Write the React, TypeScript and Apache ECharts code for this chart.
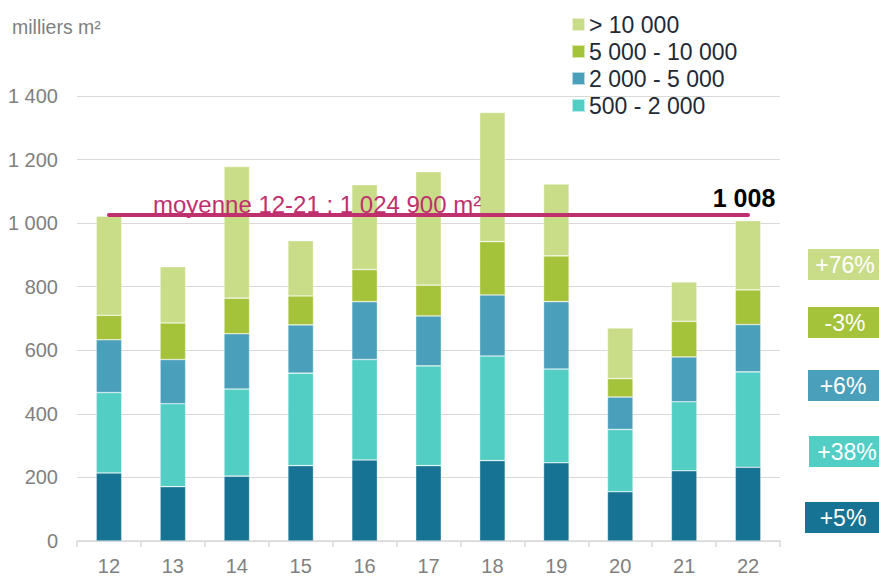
import React, { useEffect, useRef } from "react";
import * as echarts from "echarts";

const years = ["12", "13", "14", "15", "16", "17", "18", "19", "20", "21", "22"];
const under500 = [214, 171, 204, 237, 255, 237, 253, 246, 155, 221, 232];
const s500to2000 = [253, 261, 274, 291, 316, 314, 329, 295, 196, 217, 300];
const s2000to5000 = [166, 139, 174, 152, 182, 157, 192, 212, 102, 141, 149];
const s5000to10000 = [77, 115, 112, 91, 101, 97, 168, 144, 58, 112, 109];
const over10000 = [312, 177, 414, 174, 267, 357, 406, 226, 159, 124, 218];
const yTicks = [0, 200, 400, 600, 800, 1000, 1200, 1400];
const averageValue = 1024.9;
const averageLabel = "moyenne 12-21 : 1 024 900 m²";
const changeLabels = ["+76%", "-3%", "+6%", "+38%", "+5%"];

const C_LIGHT = "#c9dd89";
const C_GREEN = "#a5c33a";
const C_BLUE = "#4a9fba";
const C_TEAL = "#52cec5";
const C_DARK = "#167393";
const C_AVG = "#c0306f";
const FONT = "Liberation Sans, Arial, sans-serif";

const fmt = (v: number) => String(Math.round(v)).replace(/\B(?=(\d{3})+(?!\d))/g, " ");

export default function App() {
  const ref = useRef<HTMLDivElement>(null);
  useEffect(() => {
    if (!ref.current) return;
    const chart = echarts.init(ref.current, undefined, { renderer: "svg" });
    const last = years.length - 1;
    const totals = years.map(
      (_, i) => under500[i] + s500to2000[i] + s2000to5000[i] + s5000to10000[i] + over10000[i]
    );
    const itemBorder = { borderColor: "rgba(255,255,255,0.6)", borderWidth: 0.6 };
    const mk = (name: string, data: any[], color: string, extra: any = {}) => ({
      name,
      type: "bar",
      stack: "total",
      barWidth: "40%",
      data,
      itemStyle: { color, ...itemBorder },
      emphasis: { disabled: true },
      ...extra,
    });
    const boxColors = [C_LIGHT, C_GREEN, C_BLUE, C_TEAL, C_DARK];
    const boxY = [249, 307, 370, 436, 502];
    const boxX = [808, 808, 808, 809, 805];
    const textX = [845, 845, 843, 847, 843];
    const boxes = changeLabels.map((t, i) => ({
      type: "group",
      x: boxX[i],
      y: boxY[i],
      children: [
        { type: "rect", shape: { x: 0, y: 0, width: 90, height: 31 }, style: { fill: boxColors[i] } },
        {
          type: "text",
          x: textX[i] - boxX[i],
          y: 16,
          style: {
            text: t,
            fill: "#ffffff",
            font: `23px ${FONT}`,
            align: "center",
            verticalAlign: "middle",
          },
        },
      ],
    }));
    chart.setOption({
      animation: false,
      textStyle: { fontFamily: FONT },
      grid: { left: 77, right: 99, top: 96, bottom: 33 },
      legend: {
        orient: "vertical",
        left: 566,
        top: 8,
        itemWidth: 13,
        itemHeight: 13,
        itemGap: 4,
        icon: "rect",
        selectedMode: false,
        data: ["> 10 000", "5 000 - 10 000", "2 000 - 5 000", "500 - 2 000"],
        textStyle: { fontSize: 23, color: "#1f2a36", fontFamily: FONT, padding: [0, 0, 0, -1] },
      },
      xAxis: {
        type: "category",
        data: years,
        axisLine: { lineStyle: { color: "#d9d9d9", width: 1.5 } },
        axisTick: { show: true, length: 6, lineStyle: { color: "#d9d9d9", width: 1.5 } },
        axisLabel: { color: "#7f7f7f", fontSize: 20, margin: 15, fontFamily: FONT },
      },
      yAxis: {
        type: "value",
        min: yTicks[0],
        max: yTicks[yTicks.length - 1],
        interval: yTicks[1] - yTicks[0],
        axisLine: { show: false },
        axisTick: { show: false },
        splitLine: { lineStyle: { color: "#d9d9d9", width: 1 } },
        axisLabel: { color: "#7f7f7f", fontSize: 20, margin: 19, fontFamily: FONT, formatter: (v: number) => fmt(v) },
      },
      series: [
        mk("< 500", under500, C_DARK),
        mk("500 - 2 000", s500to2000, C_TEAL),
        mk("2 000 - 5 000", s2000to5000, C_BLUE),
        mk("5 000 - 10 000", s5000to10000, C_GREEN),
        mk(
          "> 10 000",
          over10000.map((v, i) =>
            i === last
              ? {
                  value: v,
                  label: {
                    show: true,
                    position: "top",
                    distance: 10,
                    offset: [-4, 0],
                    formatter: () => fmt(totals[last]),
                    fontSize: 25,
                    fontWeight: "bold",
                    color: "#000000",
                    fontFamily: FONT,
                  },
                }
              : v
          ),
          C_LIGHT,
          {
            markLine: {
              silent: true,
              symbol: "none",
              label: { show: false },
              lineStyle: { color: C_AVG, width: 4, type: "solid", cap: "round" },
              data: [[{ coord: [years[0], averageValue] }, { coord: [years[last], averageValue] }]],
            },
          }
        ),
      ],
      graphic: [
        {
          type: "text",
          left: 12,
          top: 17,
          style: { text: "milliers m²", fill: "#7f7f7f", font: `19.5px ${FONT}` },
        },
        {
          type: "text",
          x: 153,
          y: 192,
          z: 10,
          style: { text: averageLabel, fill: C_AVG, font: `24px ${FONT}`, verticalAlign: "top" },
        },
        ...boxes,
      ],
    });
    return () => chart.dispose();
  }, []);
  return <div ref={ref} style={{ width: 879, height: 576, position: "absolute", left: 0, top: 0 }} />;
}
